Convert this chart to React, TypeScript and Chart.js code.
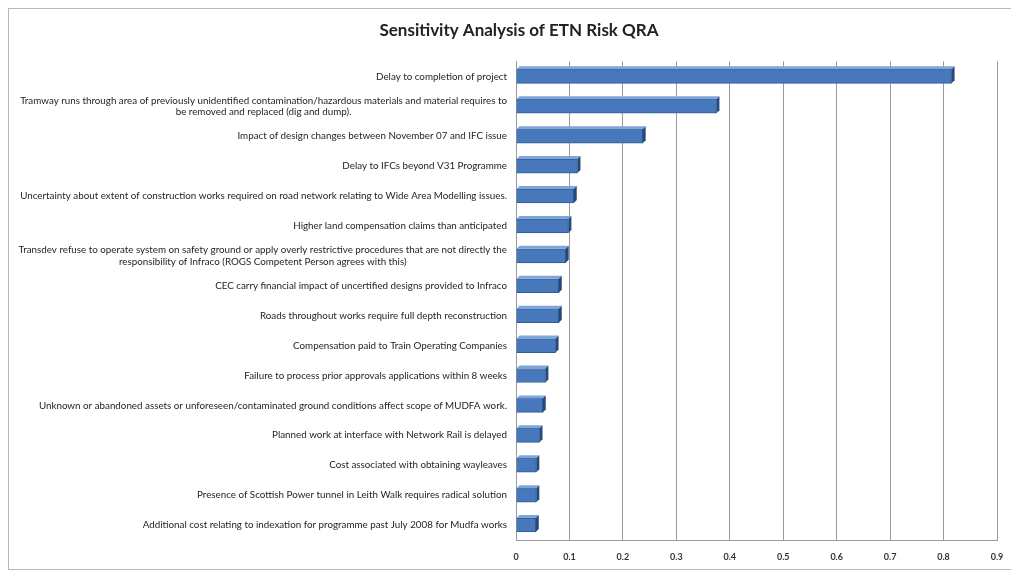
import React, { useEffect, useRef } from "react";
import { Chart, registerables } from "chart.js";

Chart.register(...registerables);

const categories: (string | string[])[] = [
  "Delay to completion of project",
  [
    "Tramway runs through area of previously unidentified contamination/hazardous materials and material requires to",
    "be removed and replaced (dig and dump).",
  ],
  "Impact of design changes between November 07 and IFC issue",
  "Delay to IFCs beyond V31 Programme",
  "Uncertainty about extent of construction works required on road network relating to Wide Area Modelling issues.",
  "Higher land compensation claims than anticipated",
  [
    "Transdev refuse to operate system on safety ground or apply overly restrictive procedures that are not directly the",
    "responsibility of Infraco (ROGS Competent Person agrees with this)",
  ],
  "CEC carry financial impact of uncertified designs provided to Infraco",
  "Roads throughout works require full depth reconstruction",
  "Compensation paid to Train Operating Companies",
  "Failure to process prior approvals applications within 8 weeks",
  "Unknown or abandoned assets or unforeseen/contaminated ground conditions affect scope of MUDFA work.",
  "Planned work at interface with Network Rail is delayed",
  "Cost associated with obtaining wayleaves",
  "Presence of Scottish Power tunnel in Leith Walk requires radical solution",
  "Additional cost relating to indexation for programme past July 2008 for Mudfa works",
];

const sensitivity: number[] = [
  0.815, 0.375, 0.237, 0.115, 0.108, 0.098, 0.093, 0.08, 0.08, 0.074, 0.055,
  0.05, 0.044, 0.038, 0.038, 0.037,
];

const xTicks: number[] = [0, 0.1, 0.2, 0.3, 0.4, 0.5, 0.6, 0.7, 0.8, 0.9];

const LABEL_FONT = "9.8px Lato, sans-serif";

const categoryLabels = {
  id: "categoryLabels",
  afterDraw(chart: any) {
    const ctx = chart.ctx;
    const yScale = chart.scales.y;
    const right = chart.chartArea.left - 9;
    const lineH = 11.5;
    ctx.save();
    ctx.font = LABEL_FONT;
    ctx.fillStyle = "#1e1e1e";
    ctx.textAlign = "center";
    ctx.textBaseline = "middle";
    (chart.data.labels as (string | string[])[]).forEach((lab, i) => {
      const lines = Array.isArray(lab) ? lab : [lab];
      const widths = lines.map((l) => ctx.measureText(l).width);
      const maxW = Math.max(...widths);
      const cx = right - maxW / 2;
      const cy = yScale.getPixelForTick(i);
      const y0 = cy - ((lines.length - 1) * lineH) / 2;
      lines.forEach((l, j) => ctx.fillText(l, cx, y0 + j * lineH));
    });
    ctx.restore();
  },
};

const bar3d = {
  id: "bar3d",
  afterDatasetsDraw(chart: any) {
    const ctx = chart.ctx;
    const meta = chart.getDatasetMeta(0);
    const d = 3;
    ctx.save();
    meta.data.forEach((el: any) => {
      const { x, y, base, height } = el.getProps(["x", "y", "base", "height"], true);
      const top = y - height / 2;
      const bottom = y + height / 2;
      ctx.fillStyle = "#7fa6d8";
      ctx.beginPath();
      ctx.moveTo(base, top);
      ctx.lineTo(base + d, top - d);
      ctx.lineTo(x + d, top - d);
      ctx.lineTo(x, top);
      ctx.closePath();
      ctx.fill();
      ctx.fillStyle = "#24497a";
      ctx.beginPath();
      ctx.moveTo(x, top);
      ctx.lineTo(x + d, top - d);
      ctx.lineTo(x + d, bottom - d);
      ctx.lineTo(x, bottom);
      ctx.closePath();
      ctx.fill();
    });
    ctx.restore();
  },
};

export default function App() {
  const ref = useRef<HTMLCanvasElement | null>(null);

  useEffect(() => {
    if (!ref.current) return;
    const chart = new Chart(ref.current, {
      type: "bar",
      data: {
        labels: categories,
        datasets: [
          {
            label: "Sensitivity",
            data: sensitivity,
            backgroundColor: "#4678bb",
            borderColor: "#2f5d95",
            borderWidth: 1,
            barThickness: 14,
          },
        ],
      },
      options: {
        indexAxis: "y",
        animation: false,
        responsive: true,
        maintainAspectRatio: false,
        layout: { padding: { left: 32, right: 14, top: 0, bottom: 0 } },
        plugins: {
          legend: { display: false },
          tooltip: { enabled: false },
          title: {
            display: true,
            text: "Sensitivity Analysis of ETN Risk QRA",
            color: "#222",
            font: { family: "Lato, 'Open Sans', sans-serif", size: 17, weight: "bold" },
            padding: { top: 11, bottom: 21 },
          },
        },
        scales: {
          x: {
            type: "linear",
            min: 0,
            max: 0.9,
            afterBuildTicks: (s: any) => {
              s.ticks = xTicks.map((v) => ({ value: v }));
            },
            afterFit: (s: any) => {
              s.height = 29;
              s.paddingRight = 0;
              s.paddingLeft = 0;
            },
            ticks: {
              color: "#333",
              font: { family: "Lato, sans-serif", size: 9, weight: "bold" },
              padding: 12,
              callback: (v: any) => String(Math.round(Number(v) * 10) / 10),
            },
            grid: { color: "#9a9a9a", lineWidth: 1, drawTicks: false },
            border: { color: "#9a9a9a" },
          },
          y: {
            afterFit: (s: any) => {
              s.width = 475;
            },
            ticks: { display: false },
            grid: { display: false },
            border: { color: "#9a9a9a" },
          },
        },
      },
      plugins: [bar3d, categoryLabels],
    });
    return () => chart.destroy();
  }, []);

  return (
    <div
      style={{
        width: 1002,
        height: 560,
        border: "1px solid #b8b8b8",
        background: "#fff",
      }}
    >
      <canvas ref={ref} />
    </div>
  );
}
